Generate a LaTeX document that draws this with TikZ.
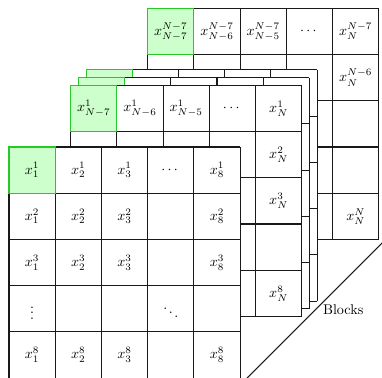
\documentclass[tikz,border=0pt]{standalone}
\usepackage{amsmath}
\usepackage{amssymb}
\usetikzlibrary{calc, positioning}

\definecolor{cellgreen}{RGB}{204,255,204}
\definecolor{edgegreen}{RGB}{40,200,40}

\begin{document}
\begin{tikzpicture}[x=1.15cm,y=1.15cm,
  gridline/.style={line width=0.75pt, draw=black!90},
  firstcell/.style={line width=0.75pt, draw=edgegreen, fill=cellgreen},
  blockgrid/.pic={
    \fill[white] (0,0) rectangle (5,5);
    \foreach \k in {0,...,5} {
      \draw[gridline] (\k,0) -- (\k,5);
      \draw[gridline] (0,\k) -- (5,\k);
    }
    \draw[firstcell] (0,4) rectangle (1,5);
  }]
\useasboundingbox (-0.195,0.02) rectangle (8.07,8.18);

% last block (back)
\pic at (3,3) {blockgrid};
\begin{scope}[shift={(3,3)}]
  \foreach \lab [count=\c] in {$x^{N-7}_{N-7}$, $x^{N-7}_{N-6}$, $x^{N-7}_{N-5}$, $\cdots$, $x^{N-7}_{N}$}
    \node (t-1-\c) at (\c-0.5,4.5) {\lab};
  \node (t-2-5) at (4.5,3.5) {$x^{N-6}_{N}$};
  \node (t-5-5) at (4.5,0.5) {$x^{N}_{N}$};
\end{scope}

% blocks in between
\pic at (1.6667,1.6667) {blockgrid};
\pic at (1.5,1.5) {blockgrid};

% second block
\pic at (1.3333,1.3333) {blockgrid};
\begin{scope}[shift={(1.3333,1.3333)}]
  \foreach \lab [count=\c] in {$x^{1}_{N-7}$, $x^{1}_{N-6}$, $x^{1}_{N-5}$, $\cdots$, $x^{1}_{N}$}
    \node (s-1-\c) at (\c-0.5,4.5) {\lab};
  \node (s-2-5) at (4.5,3.5) {$x^{2}_{N}$};
  \node (s-3-5) at (4.5,2.5) {$x^{3}_{N}$};
  \node (s-5-5) at (4.5,0.5) {$x^{8}_{N}$};
\end{scope}

% first block (front)
\pic at (0,0) {blockgrid};
\foreach \i/\y in {1/4.5, 2/3.5, 3/2.5, 8/0.5}
  \foreach \j/\x in {1/0.5, 2/1.5, 3/2.5, 8/4.5}
    \node (f-\i-\j) at (\x,\y) {$x^{\i}_{\j}$};
\node (f-hdots) at (3.5,4.5) {$\cdots$};
\node (f-vdots) at (0.5,1.5) {$\vdots$};
\node (f-ddots) at (3.5,1.5) {$\ddots$};

% depth axis
\coordinate (near) at (5.15,0);
\coordinate (far) at (8.15,3);
\draw[gridline] (near) -- (far);
\node (blocks) at (7.23,1.47) {Blocks};
\end{tikzpicture}
\end{document}
